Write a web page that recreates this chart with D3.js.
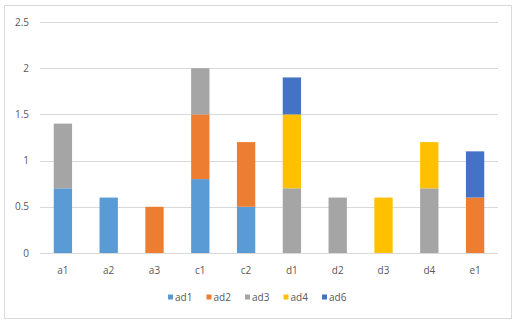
<!DOCTYPE html>
<html><head><meta charset="utf-8">
<script src="https://cdn.jsdelivr.net/npm/d3@7"></script>
<style>body{margin:0;background:#fff;}svg{display:block;font-family:"Open Sans","Noto Sans",sans-serif;}</style>
</head><body><svg id="c" width="518" height="325"></svg>
<script>
const categories = ["a1","a2","a3","c1","c2","d1","d2","d3","d4","e1"];
const seriesNames = ["ad1","ad2","ad3","ad4","ad6"];
const ad1 = [0.7,0.6,0,0.8,0.5,0,0,0,0,0];
const ad2 = [0,0,0.5,0.7,0.7,0,0,0,0,0.6];
const ad3 = [0.7,0,0,0.5,0,0.7,0.6,0,0.7,0];
const ad4 = [0,0,0,0,0,0.8,0,0.6,0.5,0];
const ad6 = [0,0,0,0,0,0.4,0,0,0,0.5];
const colors = ["#5B9BD5","#ED7D31","#A5A5A5","#FFC000","#4472C4"];
const yTicks = [0,0.5,1,1.5,2,2.5];

const svg = d3.select("#c");
svg.append("rect").attr("x",4.5).attr("y",5.5).attr("width",507).attr("height",313)
  .attr("fill","#fff").attr("stroke","#d9d9d9");

const rows = categories.map((c,i)=>({cat:c, ad1:ad1[i], ad2:ad2[i], ad3:ad3[i], ad4:ad4[i], ad6:ad6[i]}));
const stack = d3.stack().keys(seriesNames)(rows);

const x = d3.scaleBand().domain(categories).range([40,498]).paddingInner(0.6).paddingOuter(0.3);
const y = d3.scaleLinear().domain([0,2.5]).range([253,22]);

const grid = svg.append("g");
grid.selectAll("line").data(yTicks).join("line")
  .attr("x1",40).attr("x2",498).attr("y1",d=>Math.round(y(d))+0.5).attr("y2",d=>Math.round(y(d))+0.5)
  .attr("stroke","#d9d9d9").attr("stroke-width",1);

svg.append("g").selectAll("text").data(yTicks).join("text")
  .attr("x",29).attr("y",d=>y(d)).attr("dy","0.35em").attr("text-anchor","end")
  .attr("font-size",10).attr("fill","#595959").text(d=>d);

svg.append("g").selectAll("g").data(stack).join("g")
  .attr("fill",(d,i)=>colors[i])
  .selectAll("rect").data(d=>d.filter(p=>p[1]-p[0]>0)).join("rect")
  .attr("x",d=>x(d.data.cat)).attr("width",x.bandwidth())
  .attr("y",d=>y(d[1])).attr("height",d=>y(d[0])-y(d[1]));

svg.append("g").selectAll("text").data(categories).join("text")
  .attr("x",d=>x(d)+x.bandwidth()/2).attr("y",270).attr("dy","0.35em").attr("text-anchor","middle")
  .attr("font-size",10).attr("fill","#595959").text(d=>d);

const leg = svg.append("g").selectAll("g").data(seriesNames).join("g")
  .attr("transform",(d,i)=>`translate(${168+i*38.5},297)`);
leg.append("rect").attr("x",0).attr("y",-2.5).attr("width",5).attr("height",5).attr("fill",(d,i)=>colors[i]);
leg.append("text").attr("x",7).attr("y",0).attr("dy","0.35em").attr("font-size",10).attr("fill","#595959").text(d=>d);
</script></body></html>
